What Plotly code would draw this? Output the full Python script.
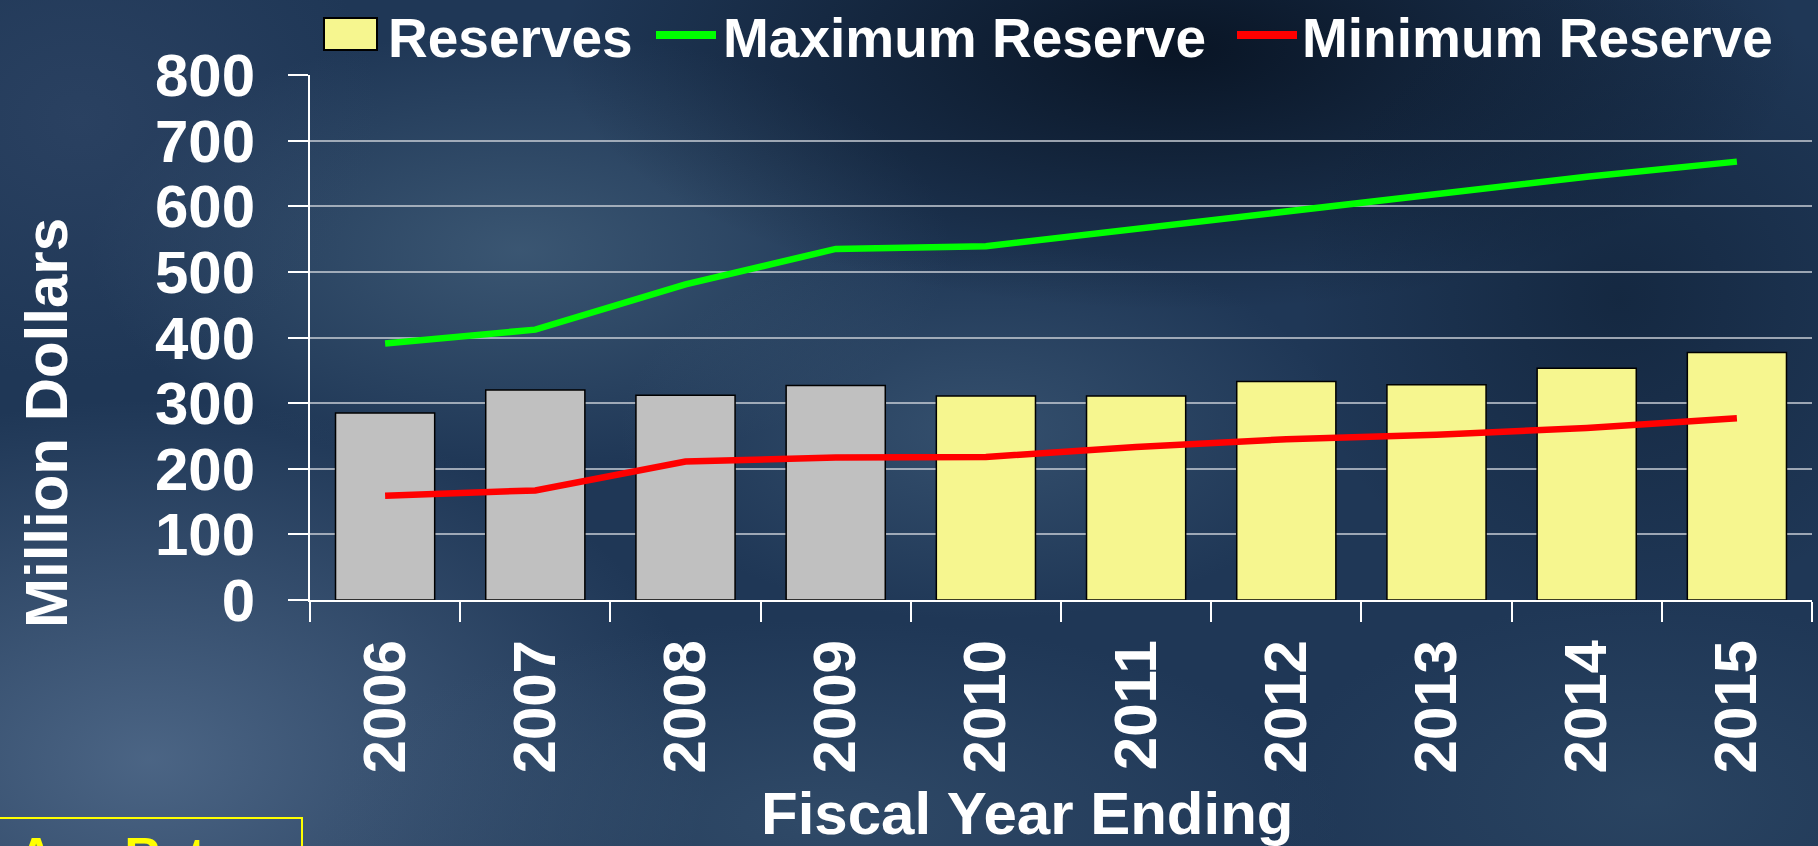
import base64
import plotly.graph_objects as go

# ---------------- data ----------------
years = ["2006", "2007", "2008", "2009", "2010", "2011", "2012", "2013", "2014", "2015"]
reserves = [285, 320, 312, 327, 311, 311, 333, 328, 353, 377]
max_reserve = [391, 412, 481, 535, 539, 565, 591, 618, 645, 668]
min_reserve = [159, 167, 211, 217, 218, 233, 245, 252, 262, 277]
y_ticks = [0, 100, 200, 300, 400, 500, 600, 700, 800]
actual_years = 4  # first four bars are historical (gray)

# ---------------- geometry helpers ----------------
W, H = 1818, 846
L, R, T, B = 310, 6, 75, 246
PW, PH = W - L - R, H - T - B


def xp(px):
    return (px - L) / PW


def yp(py):
    return (H - B - py) / PH


FONT = "Liberation Sans, Arial, sans-serif"

# ---------------- background (svg gradient) ----------------
blobs = [
    (150, 760, 560, 360, "#567090", 0.80),
    (520, 250, 430, 220, "#46637e", 0.70),
    (980, 430, 360, 190, "#43607d", 0.60),
    (820, 820, 520, 200, "#3d5976", 0.55),
    (1180, 50, 620, 260, "#050f1d", 0.85),
    (1620, 300, 320, 320, "#0c1c30", 0.55),
    (1650, 800, 380, 200, "#34506c", 0.50),
    (80, 120, 300, 260, "#33496a", 0.55),
]
defs, shapes_svg = [], []
for i, (cx, cy, rx, ry, col, op) in enumerate(blobs):
    defs.append(
        f"<radialGradient id='g{i}' cx='0.5' cy='0.5' r='0.5'>"
        f"<stop offset='0' stop-color='{col}' stop-opacity='{op}'/>"
        f"<stop offset='1' stop-color='{col}' stop-opacity='0'/></radialGradient>"
    )
    shapes_svg.append(f"<ellipse cx='{cx}' cy='{cy}' rx='{rx}' ry='{ry}' fill='url(#g{i})'/>")
svg = (
    f"<svg xmlns='http://www.w3.org/2000/svg' width='{W}' height='{H}' viewBox='0 0 {W} {H}' preserveAspectRatio='none'>"
    f"<defs>{''.join(defs)}</defs>"
    f"<rect width='{W}' height='{H}' fill='#1f3756'/>"
    + "".join(shapes_svg)
    + "</svg>"
)
bg_src = "data:image/svg+xml;base64," + base64.b64encode(svg.encode()).decode()

# ---------------- traces ----------------
bar_colors = ["#c0c0c0" if i < actual_years else "#f6f68f" for i in range(len(years))]

fig = go.Figure()
fig.add_trace(go.Bar(
    x=years, y=reserves, name="Reserves", width=0.66,
    marker=dict(color=bar_colors, line=dict(color="#000000", width=1.5)),
    showlegend=False,
))
fig.add_trace(go.Scatter(
    x=years, y=max_reserve, name="Maximum Reserve", mode="lines",
    line=dict(color="#00ff00", width=6.5), showlegend=False,
))
fig.add_trace(go.Scatter(
    x=years, y=min_reserve, name="Minimum Reserve", mode="lines",
    line=dict(color="#ff0000", width=6.5), showlegend=False,
))

# ---------------- manual legend ----------------
shapes = [
    dict(type="rect", xref="paper", yref="paper", x0=xp(324), x1=xp(377), y0=yp(50), y1=yp(18),
         fillcolor="#f6f68f", line=dict(color="#000000", width=2)),
    dict(type="line", xref="paper", yref="paper", x0=xp(656), x1=xp(716), y0=yp(35), y1=yp(35),
         line=dict(color="#00ff00", width=8)),
    dict(type="line", xref="paper", yref="paper", x0=xp(1237), x1=xp(1297), y0=yp(35), y1=yp(35),
         line=dict(color="#ff0000", width=8)),
    # Avg Rate box (cut off at bottom, as in the reference)
    dict(type="rect", xref="paper", yref="paper", x0=xp(-10), x1=xp(302), y0=yp(880), y1=yp(818),
         line=dict(color="#ffff00", width=2), fillcolor="rgba(0,0,0,0)"),
]

legend_items = [("Reserves", 386), ("Maximum Reserve", 721), ("Minimum Reserve", 1300)]
annotations = []
for txt, px in legend_items:
    annotations.append(dict(
        text=txt, xref="paper", yref="paper", x=xp(px), y=yp(38), xanchor="left", yanchor="middle",
        showarrow=False, font=dict(family=FONT, size=55, color="white", weight="bold"),
    ))

annotations += [
    dict(text="Million Dollars", xref="paper", yref="paper", x=xp(46), y=yp(423), textangle=-90,
         xanchor="center", yanchor="middle", showarrow=False,
         font=dict(family=FONT, size=60, color="white", weight="bold")),
    dict(text="Fiscal Year Ending", xref="paper", yref="paper", x=xp(1027), y=yp(813),
         xanchor="center", yanchor="middle", showarrow=False,
         font=dict(family=FONT, size=60, color="white", weight="bold")),
    dict(text="Avg Rate", xref="paper", yref="paper", x=xp(16), y=yp(826),
         xanchor="left", yanchor="top", showarrow=False,
         font=dict(family=FONT, size=50, color="#ffff00", weight="bold")),
]

fig.update_layout(
    width=W, height=H,
    margin=dict(l=L, r=R, t=T, b=B, pad=0),
    template="none",
    paper_bgcolor="#1f3756",
    plot_bgcolor="rgba(0,0,0,0)",
    bargap=0.34,
    showlegend=False,
    shapes=shapes,
    annotations=annotations,
    images=[dict(source=bg_src, xref="paper", yref="paper", x=xp(0), y=yp(0),
                 sizex=W / PW, sizey=H / PH, xanchor="left", yanchor="top",
                 sizing="stretch", layer="below")],
    xaxis=dict(
        type="category", categoryorder="array", categoryarray=years,
        range=[-0.5, len(years) - 0.5],
        showgrid=False, zeroline=False,
        showline=True, linecolor="white", linewidth=2,
        ticks="outside", tickson="boundaries", ticklen=20, tickwidth=2, tickcolor="white",
        tickangle=-90, ticklabelstandoff=14,
        tickfont=dict(family=FONT, size=60, color="white", weight="bold"),
    ),
    yaxis=dict(
        range=[0, 800], tickvals=y_ticks,
        showgrid=True, gridcolor="rgba(200,206,214,0.75)", gridwidth=2,
        zeroline=False,
        showline=True, linecolor="white", linewidth=2,
        ticks="outside", ticklen=20, tickwidth=2, tickcolor="white",
        ticklabelstandoff=21,
        tickfont=dict(family=FONT, size=60, color="white", weight="bold"),
    ),
)

fig.write_html(
    "out.html",
    config={"displayModeBar": False},
    post_script="document.body.style.margin='0';document.body.style.overflow='hidden';",
)
